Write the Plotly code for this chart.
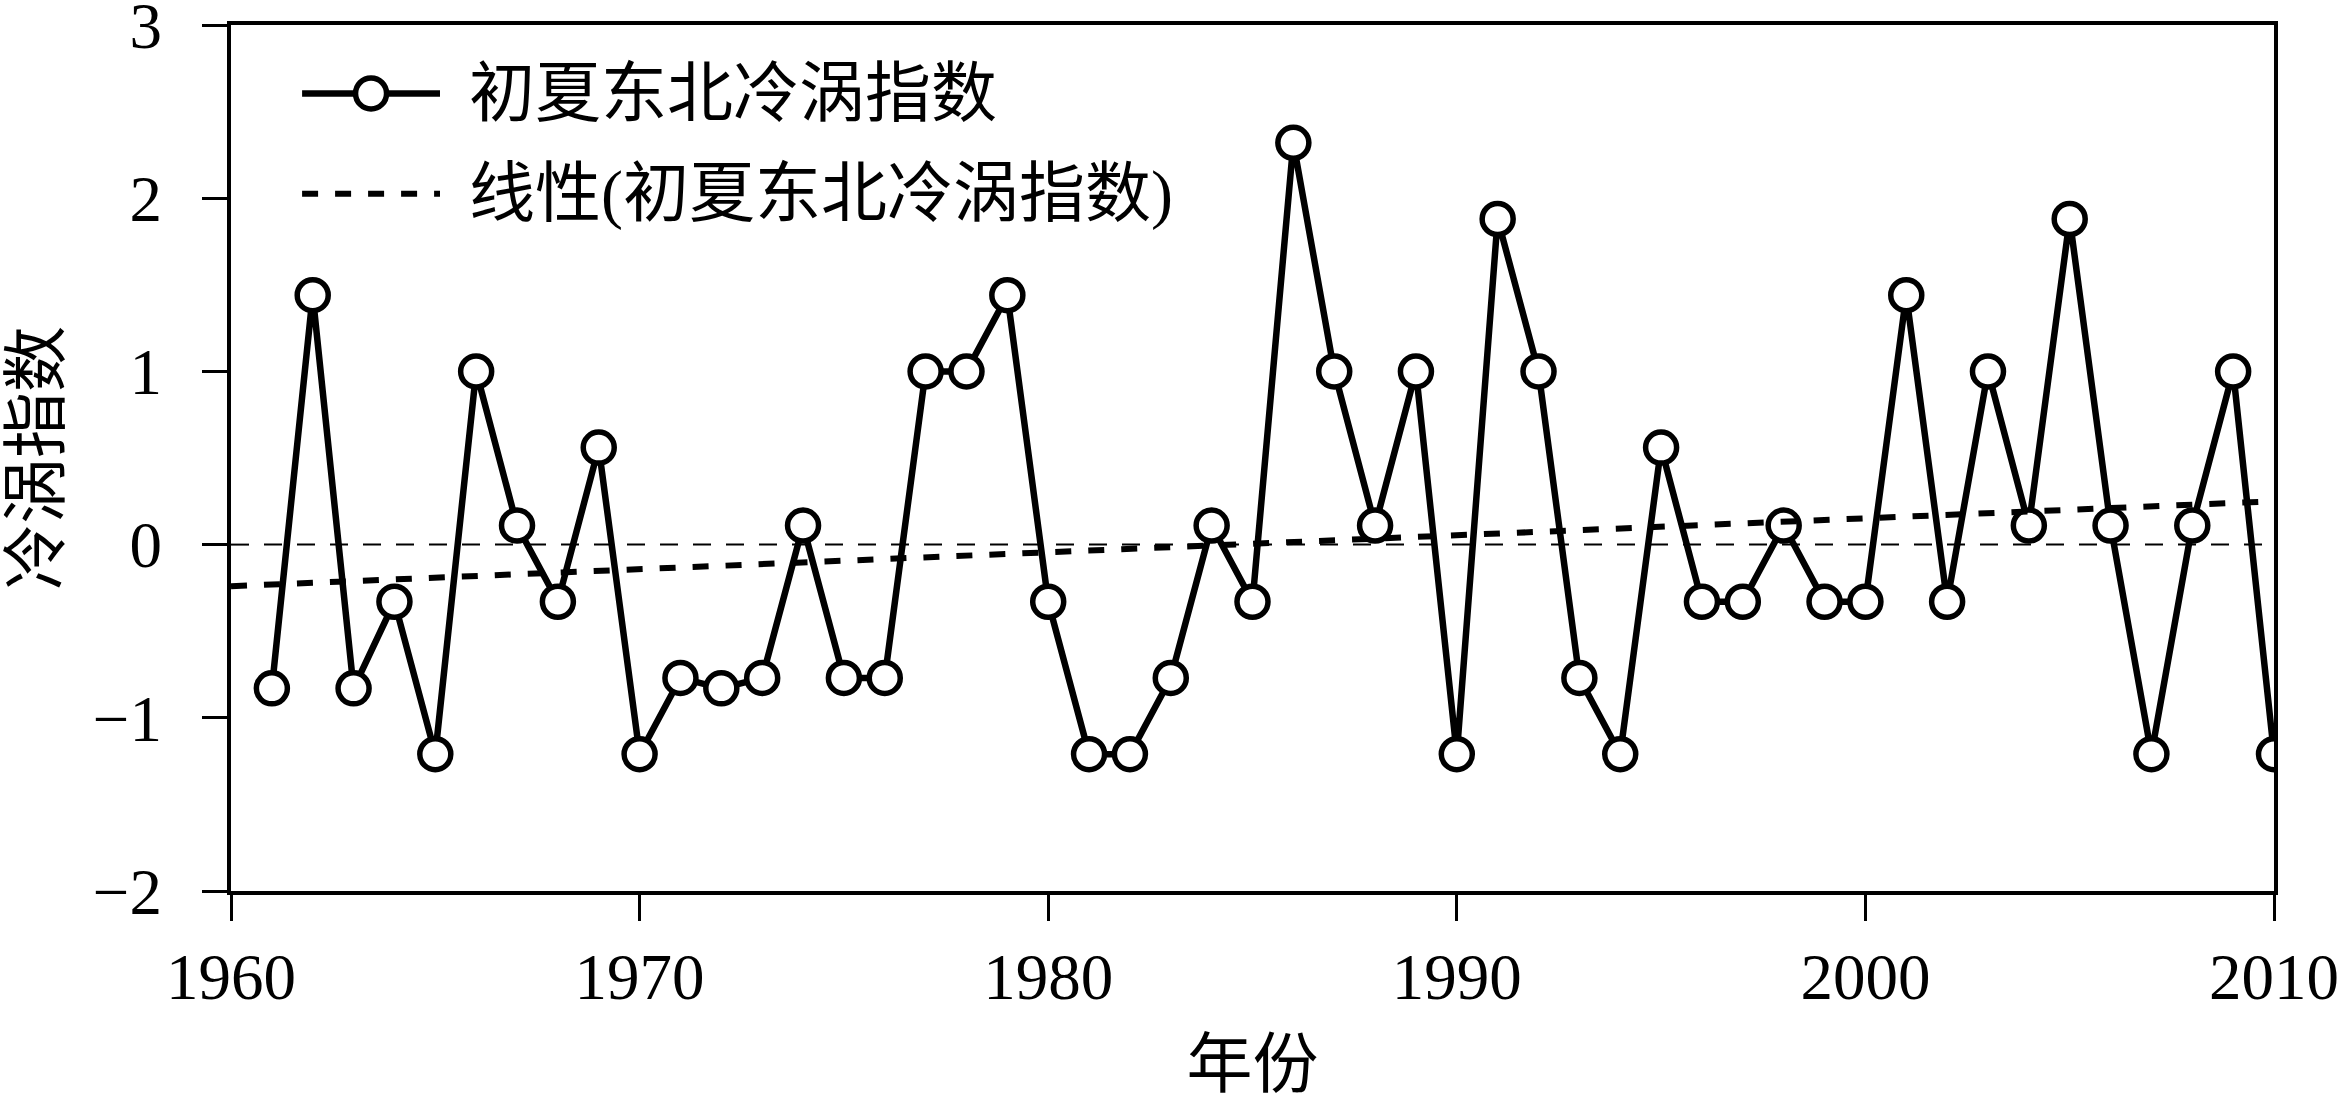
import plotly.graph_objects as go

# 初夏东北冷涡指数, 1961-2010
years = list(range(1961, 2011))
index_vals = [-0.83, 1.44, -0.83, -0.33, -1.21, 1.00, 0.11, -0.33, 0.56, -1.21,
              -0.77, -0.83, -0.77, 0.11, -0.77, -0.77, 1.00, 1.00, 1.44, -0.33,
              -1.21, -1.21, -0.77, 0.11, -0.33, 2.32, 1.00, 0.11, 1.00, -1.21,
              1.88, 1.00, -0.77, -1.21, 0.56, -0.33, -0.33, 0.11, -0.33, -0.33,
              1.44, -0.33, 1.00, 0.11, 1.88, 0.11, -1.21, 0.11, 1.00, -1.21]

# linear trend line end points
trend_years = [1960, 2010]
trend_vals = [-0.24, 0.25]

x_ticks = [1960, 1970, 1980, 1990, 2000, 2010]
y_ticks = [-2, -1, 0, 1, 2, 3]
y_ticktext = ["\u22122", "\u22121", "0", "1", "2", "3"]

series_name = "初夏东北冷涡指数"
trend_name = "线性(初夏东北冷涡指数)"

FONT = "Liberation Serif, Noto Sans CJK SC, serif"
LINE_W = 6.5
MARK_SIZE = 31
MARK_LW = 5.5

fig = go.Figure()

fig.add_trace(go.Scatter(
    x=years, y=index_vals, mode="lines+markers", name=series_name,
    line=dict(color="black", width=LINE_W),
    marker=dict(symbol="circle", size=MARK_SIZE, color="white",
                line=dict(color="black", width=MARK_LW)),
    showlegend=False,
))
fig.add_trace(go.Scatter(
    x=trend_years, y=trend_vals, mode="lines", name=trend_name,
    line=dict(color="black", width=6, dash="16px,17px"),
    showlegend=False,
))

# zero reference line
fig.add_hline(y=0, line=dict(color="black", width=2, dash="18px,15px"), layer="below")

# hand-made legend (plotly caps legend marker size, the original uses full-size circles)
lx0, lx1, ltext = 0.0348, 0.1023, 0.1155
row1, row2 = 0.921, 0.805
fig.add_shape(type="line", xref="paper", yref="paper", x0=lx0, x1=lx1, y0=row1, y1=row1,
              line=dict(color="black", width=LINE_W))
fig.add_shape(type="circle", xref="paper", yref="paper",
              xsizemode="pixel", ysizemode="pixel",
              xanchor=(lx0 + lx1) / 2, yanchor=row1,
              x0=-MARK_SIZE / 2, x1=MARK_SIZE / 2, y0=-MARK_SIZE / 2, y1=MARK_SIZE / 2,
              fillcolor="white", line=dict(color="black", width=MARK_LW))
fig.add_shape(type="line", xref="paper", yref="paper", x0=lx0, x1=lx1, y0=row2, y1=row2,
              line=dict(color="black", width=6, dash="16px,17px"))
fig.add_annotation(x=ltext, y=row1, xref="paper", yref="paper", text=series_name,
                   showarrow=False, xanchor="left", yanchor="middle", font=dict(size=66))
fig.add_annotation(x=ltext, y=row2, xref="paper", yref="paper", text=trend_name,
                   showarrow=False, xanchor="left", yanchor="middle", font=dict(size=66))

fig.update_layout(
    width=2341, height=1108,
    margin=dict(l=231, r=67, t=25, b=217, autoexpand=False),
    plot_bgcolor="white", paper_bgcolor="white",
    font=dict(family=FONT, size=66, color="black"),
    showlegend=False,
)

fig.update_xaxes(
    range=[1960, 2010], tickvals=x_ticks, automargin=False,
    showline=True, linecolor="black", linewidth=4, mirror=True,
    ticks="outside", ticklen=26, tickwidth=3, tickcolor="black",
    showgrid=False, zeroline=False, ticklabeloverflow="allow",
    tickfont=dict(size=65),
    title=dict(text="年份", font=dict(size=66), standoff=30),
)
fig.update_yaxes(
    range=[-2, 3], tickvals=y_ticks, ticktext=y_ticktext, automargin=False,
    showline=True, linecolor="black", linewidth=4, mirror=True,
    ticks="outside", ticklen=25, tickwidth=3, tickcolor="black",
    showgrid=False, zeroline=False, ticklabeloverflow="allow",
    tickfont=dict(size=65), ticklabelstandoff=27,
    title=dict(text="冷涡指数", font=dict(size=66), standoff=14),
)

# drop the browser's default 8px body margin so the figure fills the window exactly
fig.write_html("out.html", config={"displayModeBar": False},
               post_script="document.body.style.margin='0';")
